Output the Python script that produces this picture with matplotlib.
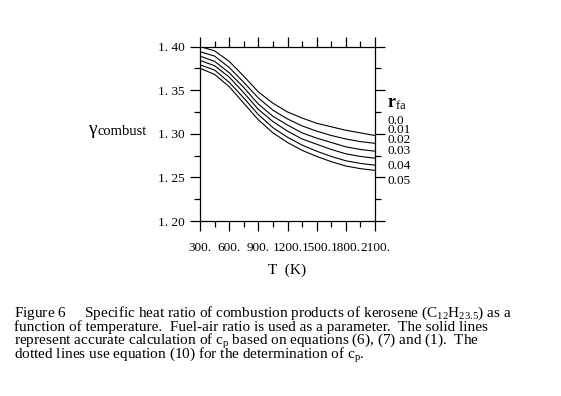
import matplotlib
matplotlib.use("Agg")
import matplotlib.pyplot as plt
from matplotlib.ticker import FixedLocator

plt.rcParams['font.family'] = ['Liberation Serif', 'DejaVu Serif']
plt.rcParams['mathtext.fontset'] = 'custom'
plt.rcParams['mathtext.rm'] = 'Liberation Serif'
plt.rcParams['mathtext.it'] = 'Liberation Serif:italic'
plt.rcParams['mathtext.bf'] = 'Liberation Serif:bold'

# temperature (K)
temps = [300, 450, 600, 750, 900, 1050, 1200, 1350, 1500, 1650, 1800, 1950, 2100]

# gamma of combustion products, one list per fuel-air ratio
gamma_000 = [1.400, 1.395, 1.383, 1.366, 1.348, 1.335, 1.325, 1.318, 1.312, 1.308, 1.304, 1.301, 1.298]
gamma_001 = [1.394, 1.389, 1.376, 1.359, 1.341, 1.327, 1.317, 1.309, 1.303, 1.298, 1.294, 1.291, 1.289]
gamma_002 = [1.389, 1.383, 1.370, 1.353, 1.334, 1.320, 1.310, 1.301, 1.295, 1.290, 1.285, 1.282, 1.280]
gamma_003 = [1.384, 1.378, 1.365, 1.347, 1.328, 1.314, 1.303, 1.294, 1.288, 1.282, 1.277, 1.274, 1.272]
gamma_004 = [1.379, 1.373, 1.359, 1.341, 1.322, 1.307, 1.296, 1.287, 1.280, 1.274, 1.269, 1.266, 1.264]
gamma_005 = [1.375, 1.368, 1.354, 1.335, 1.316, 1.301, 1.290, 1.281, 1.274, 1.268, 1.263, 1.260, 1.258]

series = [gamma_000, gamma_001, gamma_002, gamma_003, gamma_004, gamma_005]
rfa_labels = ['0.0', '0.01', '0.02', '0.03', '0.04', '0.05']

xticks = [300, 600, 900, 1200, 1500, 1800, 2100]
xtick_labels = ['300.', '600.', '900.', '1200.', '1500.', '1800.', '2100.']
yticks = [1.20, 1.25, 1.30, 1.35, 1.40]
ytick_labels = ['1. 20', '1. 25', '1. 30', '1. 35', '1. 40']

W, H = 561, 396
fig = plt.figure(figsize=(W / 100, H / 100), dpi=100)
ax = fig.add_axes([200 / W, 1 - 221 / H, 175 / W, 174.5 / H])

for g in series:
    ax.plot(temps, g, color='black', lw=0.8)

ax.set_xlim(300, 2100)
ax.set_ylim(1.20, 1.40)

for s in ax.spines.values():
    s.set_linewidth(0.9)

ax.xaxis.set_major_locator(FixedLocator(xticks))
ax.xaxis.set_minor_locator(FixedLocator([450, 750, 1050, 1350, 1650, 1950]))
ax.set_xticklabels(xtick_labels, fontsize=9.5)
ax.yaxis.set_major_locator(FixedLocator(yticks))
ax.yaxis.set_minor_locator(FixedLocator([1.225, 1.275, 1.325, 1.375]))
ax.set_yticklabels(ytick_labels, fontsize=9.5)

ax.tick_params(which='both', direction='out', top=True, right=True, width=0.9)
ax.tick_params(which='major', length=7)
ax.tick_params(which='minor', length=4)
ax.tick_params(axis='x', which='major', pad=8)
ax.tick_params(axis='y', which='major', pad=4)

fig.text(88 / W, 1 - 134 / H, 'γ', fontsize=14, ha='left', va='baseline')
fig.text(97 / W, 1 - 135 / H, 'combust', fontsize=10.5, ha='left', va='baseline')
fig.text(287 / W, 1 - 270 / H, 'T  (K)', fontsize=11, ha='center', va='center')

fig.text(387 / W, 1 - 103 / H, r'$\mathbf{r}_{\mathrm{fa}}$', fontsize=13,
         ha='left', va='center')
label_y = [121, 130, 140, 151.5, 166, 181]
for lab, yy in zip(rfa_labels, label_y):
    fig.text(388 / W, 1 - yy / H, lab, fontsize=9.5, ha='left', va='center')

caption = [
    r'Figure 6     Specific heat ratio of combustion products of kerosene (C$_{12}$H$_{23.5}$) as a',
    'function of temperature.  Fuel-air ratio is used as a parameter.  The solid lines',
    r'represent accurate calculation of c$_{\mathrm{p}}$ based on equations (6), (7) and (1).  The',
    r'dotted lines use equation (10) for the determination of c$_{\mathrm{p}}$.',
]
cap_y = [317, 331, 345, 359]
for line, yy in zip(caption, cap_y):
    fig.text(14 / W, 1 - yy / H, line, fontsize=11, ha='left', va='baseline')

fig.savefig('out.png', dpi=100)
